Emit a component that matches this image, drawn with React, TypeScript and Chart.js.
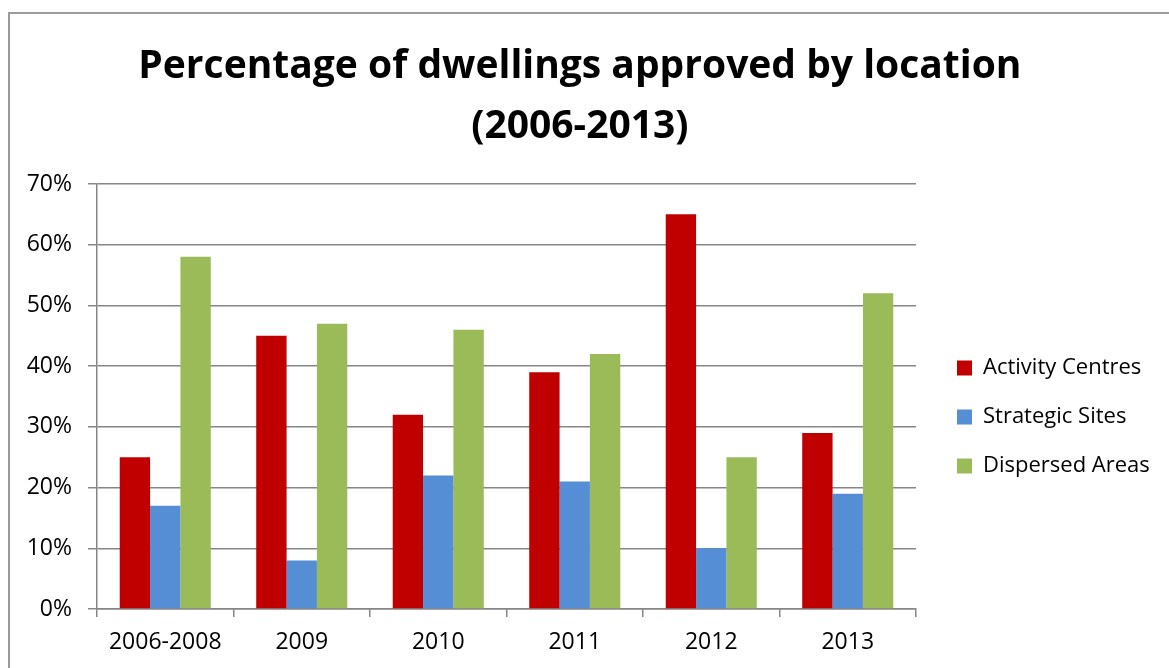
import React, { useEffect, useRef } from 'react';
import { Chart, registerables } from 'chart.js';

Chart.register(...registerables);

const categories = ['2006-2008', '2009', '2010', '2011', '2012', '2013'];
const activityCentres = [25, 45, 32, 39, 65, 29];
const strategicSites = [17, 8, 22, 21, 10, 19];
const dispersedAreas = [58, 47, 46, 42, 25, 52];
const yTicks = [0, 10, 20, 30, 40, 50, 60, 70];
const seriesNames = ['Activity Centres', 'Strategic Sites', 'Dispersed Areas'];
const titleLines = ['Percentage of dwellings approved by location', '(2006-2013)'];

const W = 1169;
const H = 668;
const FONT = '"Open Sans"';
const TICK_SIZE = 23;
const LEGEND_SIZE = 22;
const TITLE_SIZE = 39;
const GRID = '#868686';

export default function App() {
  const ref = useRef<HTMLCanvasElement>(null);

  useEffect(() => {
    let chart: Chart | null = null;
    let cancelled = false;

    const build = () => {
      if (cancelled || !ref.current) return;
      const canvas = ref.current;
      const ctx = canvas.getContext('2d')!;
      ctx.font = `${LEGEND_SIZE}px ${FONT}`;
      const maxLegend = Math.max(...seriesNames.map((s) => ctx.measureText(s).width));
      const legendPad = 27;
      const boxW = 15;
      const legendWidth = legendPad + boxW + LEGEND_SIZE / 2 + maxLegend + 10;
      const plotRight = 916;
      const gapAxis = 14;
      const padRight = Math.max(0, W - plotRight - gapAxis - legendWidth);

      chart = new Chart(canvas, {
        type: 'bar',
        data: {
          labels: categories,
          datasets: [
            { label: seriesNames[0], data: activityCentres, backgroundColor: '#C00000' },
            { label: seriesNames[1], data: strategicSites, backgroundColor: '#558ED5' },
            { label: seriesNames[2], data: dispersedAreas, backgroundColor: '#9BBB59' },
          ],
        },
        options: {
          responsive: false,
          animation: false,
          layout: { padding: { left: 0, right: padRight, top: 0, bottom: 14 } },
          datasets: { bar: { categoryPercentage: 0.667, barPercentage: 1 } },
          plugins: {
            title: {
              display: true,
              text: titleLines,
              color: '#000',
              font: { family: FONT, size: TITLE_SIZE, weight: 'bold', lineHeight: 60 / TITLE_SIZE },
              padding: { top: 37, bottom: 27 },
            },
            legend: {
              position: 'right',
              align: 'center',
              fullSize: false,
              maxWidth: 400,
              title: { display: true, text: ' ', font: { family: FONT, size: 21 }, padding: 8 },
              labels: {
                boxWidth: boxW,
                boxHeight: 15,
                padding: legendPad,
                color: '#000',
                font: { family: FONT, size: LEGEND_SIZE },
              },
            },
            tooltip: { enabled: false },
          },
          scales: {
            x: {
              grid: {
                display: true,
                offset: true,
                drawOnChartArea: false,
                drawTicks: true,
                tickLength: 8,
                color: GRID,
                lineWidth: 1.5,
              },
              border: { display: true, color: GRID, width: 1.5 },
              ticks: { color: '#000', padding: 12, font: { family: FONT, size: TICK_SIZE } },
              afterFit: (s: any) => {
                s.height = 45;
              },
            },
            y: {
              min: 0,
              max: 70,
              afterBuildTicks: (s: any) => {
                s.ticks = yTicks.map((v) => ({ value: v }));
              },
              ticks: {
                color: '#000',
                padding: 16,
                font: { family: FONT, size: TICK_SIZE },
                callback: (v: any) => `${v}%`,
              },
              grid: { color: GRID, lineWidth: 1.5, tickLength: 9 },
              border: { display: true, color: GRID, width: 1.5 },
              afterFit: (s: any) => {
                s.width = 97;
              },
            },
            yR: {
              type: 'linear',
              position: 'right',
              display: true,
              grid: { display: false, drawTicks: false },
              border: { display: false },
              ticks: { display: false },
              afterFit: (s: any) => {
                s.width = gapAxis;
              },
            },
          },
        },
      } as any);
    };

    const fonts = (document as any).fonts;
    if (fonts && fonts.load) {
      Promise.all([
        fonts.load(`${TICK_SIZE}px ${FONT}`),
        fonts.load(`bold ${TITLE_SIZE}px ${FONT}`),
      ])
        .catch(() => undefined)
        .then(build);
    } else {
      build();
    }

    return () => {
      cancelled = true;
      if (chart) chart.destroy();
    };
  }, []);

  return (
    <div style={{ position: 'absolute', left: 0, top: 0, width: W, height: H, overflow: 'hidden', background: '#fff' }}>
      <div
        style={{
          position: 'absolute',
          left: 8,
          top: 12,
          width: 1300,
          height: 800,
          border: '2px solid #9a9a9a',
          boxSizing: 'border-box',
        }}
      />
      <canvas ref={ref} width={W} height={H} style={{ position: 'absolute', left: 0, top: 0, width: W, height: H }} />
    </div>
  );
}
